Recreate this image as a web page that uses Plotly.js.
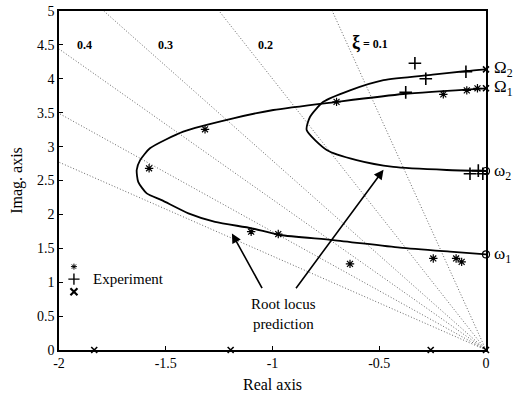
<!DOCTYPE html>
<html>
<head>
<meta charset="utf-8">
<script src="https://cdn.plot.ly/plotly-3.0.1.min.js"></script>
<style>
  html, body { margin: 0; padding: 0; background: #fff; }
  #chart { width: 519px; height: 401px; }
</style>
</head>
<body>
<div id="chart"></div>
<script>
// Constant-damping rays: each runs from the origin to where it meets the frame
const zetaEdgeX = [-0.72, -1.25, -1.79, -2.0, -2.0, -2.0];
const zetaEdgeY = [5.0, 5.0, 5.0, 4.44, 3.49, 2.77];

// Predicted root locus, branch from Omega2 down to omega2
const locus2X = [0, -0.09, -0.25, -0.48, -0.637, -0.762, -0.824, -0.84, -0.746, -0.606, -0.434, -0.184, 0];
const locus2Y = [4.14, 4.115, 4.06, 3.98, 3.83, 3.66, 3.44, 3.245, 2.95, 2.80, 2.70, 2.655, 2.64];

// Predicted root locus, branch from Omega1 down to omega1
const locus1X = [0, -0.387, -0.70, -0.996, -1.184, -1.418, -1.574, -1.62, -1.636, -1.629, -1.589, -1.519, -1.394, -1.269, -1.097, -0.965, -0.715, -0.403, -0.169, 0];
const locus1Y = [3.86, 3.776, 3.66, 3.54, 3.417, 3.22, 2.975, 2.80, 2.655, 2.48, 2.31, 2.21, 2.016, 1.89, 1.795, 1.696, 1.622, 1.509, 1.45, 1.41];

// Measured poles
const starX = [-1.578, -1.316, -1.10, -0.973, -0.637, -0.247, -0.14, -0.114, -0.70, -0.20, -0.09, -0.04];
const starY = [2.68, 3.255, 1.745, 1.71, 1.27, 1.35, 1.35, 1.30, 3.66, 3.77, 3.83, 3.86];
const plusX = [-0.333, -0.282, -0.094, -0.376, -0.075, -0.036, -0.015];
const plusY = [4.23, 4.0, 4.105, 3.80, 2.60, 2.645, 2.60];
const crossX = [-1.835, -1.196, -0.259, 0, 0, 0];
const crossY = [0, 0, 0, 0, 4.14, 3.86];

// Open-loop frequencies on the imaginary axis
const omegaX = [0, 0];
const omegaY = [2.64, 1.41];

// Key for the measured-pole symbols (star, plus, cross stacked)
const keyX = [-1.93, -1.93, -1.93];
const keyY = [1.23, 1.045, 0.86];

const xTicks = [-2, -1.5, -1, -0.5, 0];
const yTicks = [0, 0.5, 1, 1.5, 2, 2.5, 3, 3.5, 4, 4.5, 5];

const serif = 'Liberation Serif';
const traces = [];

zetaEdgeX.forEach((ex, i) => {
  traces.push({
    x: [0, ex], y: [0, zetaEdgeY[i]], mode: 'lines', hoverinfo: 'skip',
    line: { color: '#666', width: 1, dash: '1px,2px' }
  });
});

traces.push({ x: locus2X, y: locus2Y, mode: 'lines', line: { color: '#000', width: 1.8, shape: 'spline', smoothing: 0.6 } });
traces.push({ x: locus1X, y: locus1Y, mode: 'lines', line: { color: '#000', width: 1.8, shape: 'spline', smoothing: 0.6 } });

traces.push({ x: starX, y: starY, mode: 'markers', cliponaxis: false,
  marker: { symbol: 'asterisk-open', size: 7, color: '#000', line: { color: '#000', width: 1.2 } } });
traces.push({ x: plusX, y: plusY, mode: 'markers', cliponaxis: false,
  marker: { symbol: 'cross-thin-open', size: 9, color: '#000', line: { color: '#000', width: 1.6 } } });
traces.push({ x: crossX, y: crossY, mode: 'markers', cliponaxis: false,
  marker: { symbol: 'x-thin-open', size: 6, color: '#000', line: { color: '#000', width: 1.6 } } });
traces.push({ x: omegaX, y: omegaY, mode: 'markers', cliponaxis: false,
  marker: { symbol: 'circle-open', size: 7, color: '#000', line: { color: '#000', width: 1.2 } } });

// Key glyphs
traces.push({ x: [keyX[0]], y: [keyY[0]], mode: 'markers', hoverinfo: 'skip',
  marker: { symbol: 'asterisk-open', size: 5, color: '#000', line: { color: '#000', width: 1 } } });
traces.push({ x: [keyX[1]], y: [keyY[1]], mode: 'markers', hoverinfo: 'skip',
  marker: { symbol: 'cross-thin-open', size: 8, color: '#000', line: { color: '#000', width: 1.4 } } });
traces.push({ x: [keyX[2]], y: [keyY[2]], mode: 'markers', hoverinfo: 'skip',
  marker: { symbol: 'x-thin-open', size: 7, color: '#000', line: { color: '#000', width: 2.2 } } });

const ann = (x, y, text, size, extra) => Object.assign({
  x, y, xref: 'x', yref: 'y', text, showarrow: false,
  font: { family: serif, size: size, color: '#000' }
}, extra || {});

// Labels just outside the right edge of the frame
const edge = (y, text) => ({
  x: 1, xref: 'paper', y, yref: 'y', xanchor: 'left', xshift: 6, text, showarrow: false,
  font: { family: serif, size: 17, color: '#000' }
});

const annotations = [
  ann(-1.88, 4.5, '<b>0.4</b>', 12),
  ann(-1.50, 4.5, '<b>0.3</b>', 12),
  ann(-1.035, 4.5, '<b>0.2</b>', 12),
  ann(-0.545, 4.53, '<b><span style="font-size:18px">ξ</span> = 0.1</b>', 12),
  edge(4.14, 'Ω<sub>2</sub>'),
  edge(3.86, 'Ω<sub>1</sub>'),
  edge(2.63, 'ω<sub>2</sub>'),
  edge(1.40, 'ω<sub>1</sub>'),
  ann(-1.85, 1.05, 'Experiment', 15, { xanchor: 'left' }),
  ann(-0.95, 0.53, 'Root locus<br>prediction', 15, { align: 'center' }),
  { x: -1.19, y: 1.72, ax: -1.045, ay: 0.89, xref: 'x', yref: 'y', axref: 'x', ayref: 'y',
    text: '', showarrow: true, arrowhead: 2, arrowsize: 1.2, arrowwidth: 1.6, arrowcolor: '#000' },
  { x: -0.48, y: 2.66, ax: -0.895, ay: 0.89, xref: 'x', yref: 'y', axref: 'x', ayref: 'y',
    text: '', showarrow: true, arrowhead: 2, arrowsize: 1.2, arrowwidth: 1.6, arrowcolor: '#000' }
];

const axisBase = {
  showgrid: false, zeroline: false, showline: true, mirror: true,
  linecolor: '#000', linewidth: 1.6, ticks: 'inside', ticklen: 4, tickcolor: '#000',
  tickfont: { family: serif, size: 14, color: '#000' }
};

const layout = {
  width: 519, height: 401,
  margin: { l: 59, r: 33, t: 11, b: 51 },
  paper_bgcolor: '#fff', plot_bgcolor: '#fff',
  font: { family: serif, color: '#000' },
  showlegend: false,
  xaxis: Object.assign({}, axisBase, {
    range: [-2, 0], tickvals: xTicks, ticktext: xTicks.map(String),
    title: { text: 'Real axis', font: { family: serif, size: 16, color: '#000' }, standoff: 8 }
  }),
  yaxis: Object.assign({}, axisBase, {
    range: [0, 5], tickvals: yTicks, ticktext: yTicks.map(String),
    title: { text: 'Imag. axis', font: { family: serif, size: 16, color: '#000' }, standoff: 10 }
  }),
  annotations
};

Plotly.newPlot('chart', traces, layout, { staticPlot: true, displayModeBar: false });
</script>
</body>
</html>
